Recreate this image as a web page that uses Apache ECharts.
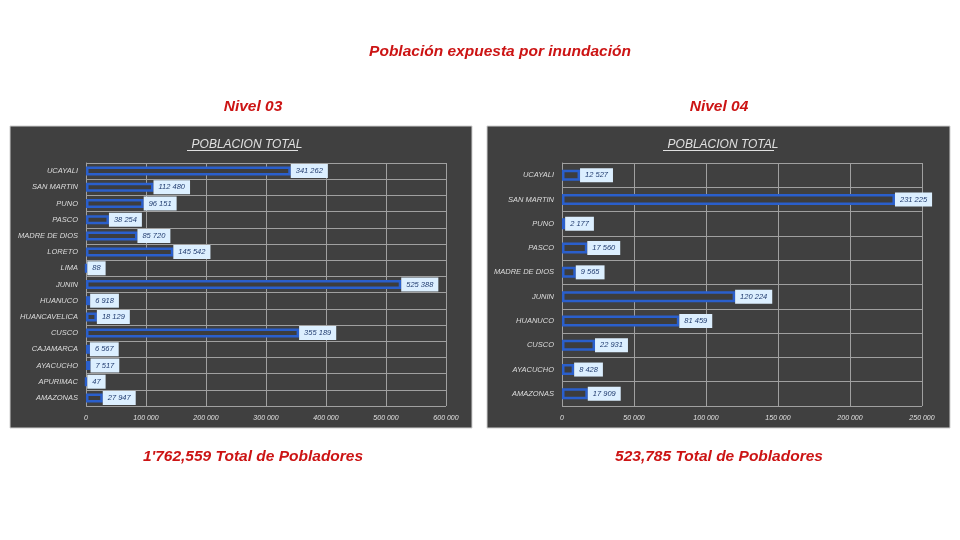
<!DOCTYPE html>
<html>
<head>
<meta charset="utf-8">
<script src="https://cdn.jsdelivr.net/npm/echarts@6/dist/echarts.min.js"></script>
<style>html,body{margin:0;padding:0;background:#fff}#c{width:960px;height:540px}</style>
</head>
<body>
<div id="c"></div>
<script>
const catsN3 = ['UCAYALI','SAN MARTIN','PUNO','PASCO','MADRE DE DIOS','LORETO','LIMA','JUNIN','HUANUCO','HUANCAVELICA','CUSCO','CAJAMARCA','AYACUCHO','APURIMAC','AMAZONAS'];
const valsN3 = [341262,112480,96151,38254,85720,145542,88,525388,6918,18129,355189,6567,7517,47,27947];
const catsN4 = ['UCAYALI','SAN MARTIN','PUNO','PASCO','MADRE DE DIOS','JUNIN','HUANUCO','CUSCO','AYACUCHO','AMAZONAS'];
const valsN4 = [12527,231225,2177,17560,9565,120224,81459,22931,8428,17909];
const ticksN3 = {min:0, max:600000, interval:100000};
const ticksN4 = {min:0, max:250000, interval:50000};
const mainTitle = 'Población expuesta por inundación';
const panelTitle = 'POBLACION TOTAL';
const levelTitles = ['Nivel 03','Nivel 04'];
const totals = ["1'762,559 Total de Pobladores", '523,785 Total de Pobladores'];

const fmt = v => String(v).replace(/\B(?=(\d{3})+(?!\d))/g,' ');
const red = '#cc1414';
const font = '"Liberation Sans", "DejaVu Sans", sans-serif';

function xAx(idx, t){
  return {gridIndex:idx, type:'value', min:t.min, max:t.max, interval:t.interval,
    axisLine:{show:false}, axisTick:{show:false},
    splitLine:{show:true, lineStyle:{color:'#a0a0a0', width:1}},
    axisLabel:{color:'#e0e0e0', fontSize:7, fontStyle:'italic', fontFamily:font, margin:9, formatter:v=>fmt(v)}};
}
function yAx(idx, cats){
  return {gridIndex:idx, type:'category', data:cats, inverse:true,
    axisLine:{show:true, lineStyle:{color:'#a0a0a0'}}, axisTick:{show:false},
    splitLine:{show:true, interval:0, lineStyle:{color:'#a0a0a0', width:1}},
    axisLabel:{color:'#dcdcdc', fontSize:7.5, fontStyle:'italic', fontFamily:font, margin:8}};
}
function ser(idx, vals, bw){
  return {type:'bar', xAxisIndex:idx, yAxisIndex:idx, data:vals, barWidth:bw,
    itemStyle:{color:'#3d3d3d', borderColor:'#2a5fcc', borderWidth:2.5},
    label:{show:true, position:'right', distance:0, formatter:p=>fmt(p.value),
      backgroundColor:'#dcefff', color:'#1f3a6e', fontSize:7.5, fontStyle:'italic', fontFamily:font,
      padding:[3,5,3,5]},
    silent:true, animation:false};
}

const chart = echarts.init(document.getElementById('c'), null, {renderer:'canvas'});
chart.setOption({
  animation:false,
  backgroundColor:'#ffffff',
  graphic:[
    {type:'rect', shape:{x:10,y:126,width:462,height:302}, style:{fill:'#404040', stroke:'#d0d0d0', lineWidth:1}, z:-10},
    {type:'rect', shape:{x:487,y:126,width:463,height:302}, style:{fill:'#404040', stroke:'#d0d0d0', lineWidth:1}, z:-10},
    {type:'line', shape:{x1:187,y1:150.5,x2:298,y2:150.5}, style:{stroke:'#e0e0e0', lineWidth:1}, z:10},
    {type:'line', shape:{x1:663,y1:150.5,x2:774,y2:150.5}, style:{stroke:'#e0e0e0', lineWidth:1}, z:10}
  ],
  title:[
    {text:mainTitle, left:495, top:39, textAlign:'center', textStyle:{color:red, fontSize:15.5, fontStyle:'italic', fontWeight:'bold', fontFamily:font}},
    {text:levelTitles[0], left:248, top:94, textAlign:'center', textStyle:{color:red, fontSize:15.5, fontStyle:'italic', fontWeight:'bold', fontFamily:font}},
    {text:levelTitles[1], left:714, top:94, textAlign:'center', textStyle:{color:red, fontSize:15.5, fontStyle:'italic', fontWeight:'bold', fontFamily:font}},
    {text:panelTitle, left:242, top:134, textAlign:'center', textStyle:{color:'#e0e0e0', fontSize:12, fontStyle:'italic', fontWeight:'normal', fontFamily:font}},
    {text:panelTitle, left:718, top:134, textAlign:'center', textStyle:{color:'#e0e0e0', fontSize:12, fontStyle:'italic', fontWeight:'normal', fontFamily:font}},
    {text:totals[0], left:248, top:444, textAlign:'center', textStyle:{color:red, fontSize:15.5, fontStyle:'italic', fontWeight:'bold', fontFamily:font}},
    {text:totals[1], left:714, top:444, textAlign:'center', textStyle:{color:red, fontSize:15.5, fontStyle:'italic', fontWeight:'bold', fontFamily:font}}
  ],
  grid:[
    {left:86, top:163, width:360, height:243},
    {left:562, top:163, width:360, height:243}
  ],
  xAxis:[xAx(0,ticksN3), xAx(1,ticksN4)],
  yAxis:[yAx(0,catsN3), yAx(1,catsN4)],
  series:[ser(0,valsN3,9), ser(1,valsN4,11)]
});
</script>
</body>
</html>
